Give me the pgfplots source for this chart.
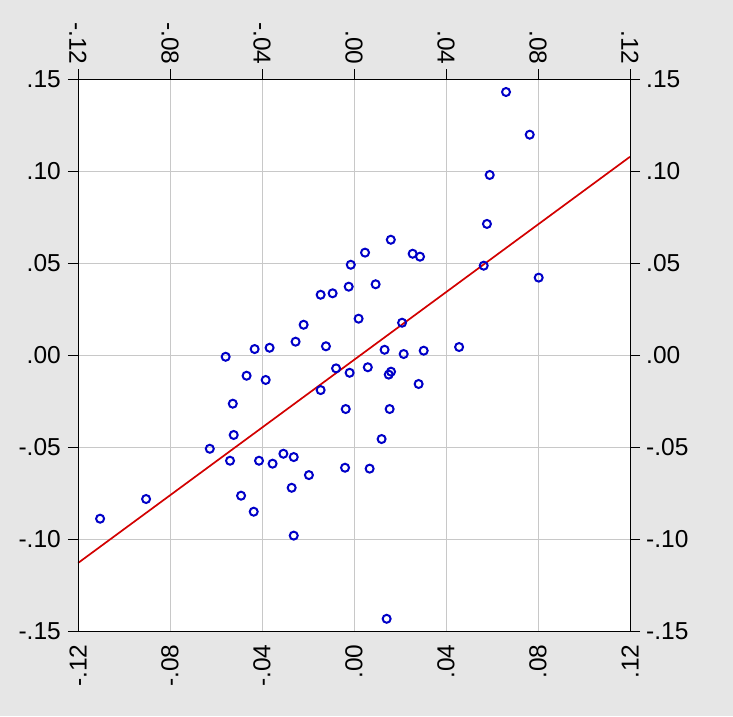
\documentclass[border=0pt]{standalone}
\usepackage{fontspec}
\setmainfont{Liberation Sans}
\usepackage{pgfplots}
\pgfplotsset{compat=1.18}
\definecolor{bgc}{RGB}{230,230,230}
\definecolor{gridc}{RGB}{200,200,200}
\definecolor{ptc}{RGB}{0,0,200}
\definecolor{linec}{RGB}{210,0,0}
\begin{document}
\begin{tikzpicture}[x=1pt,y=1pt]
\fill[bgc] (-78,-84.7) rectangle (655,631.3);
\pgfplotsset{
  common/.style={
    at={(0,0)}, anchor=south west,
    scale only axis, width=552pt, height=552pt,
    xmin=-0.12, xmax=0.12, ymin=-0.15, ymax=0.15,
    xtick={-0.12,-0.08,-0.04,0,0.04,0.08,0.12},
    ytick={-0.15,-0.10,-0.05,0,0.05,0.10,0.15},
    xticklabels={-.12,-.08,-.04,.00,.04,.08,.12},
    yticklabels={-.15,-.10,-.05,.00,.05,.10,.15},
    tick align=outside, major tick length=10pt,
    tick style={black, line width=0.8pt},
    axis line style={black, line width=0.8pt},
    ticklabel style={font=\fontsize{24.5}{28}\selectfont},
  }
}
\begin{axis}[common,
  xtick pos=bottom, ytick pos=left,
  x tick style={draw=none},
  grid=major, major grid style={gridc, line width=0.8pt},
  axis background/.style={fill=white},
  xticklabel style={rotate=90, anchor=east, inner sep=3pt},
  yticklabel style={anchor=east, inner sep=7pt},
]
\addplot[linec, line width=1.7pt] coordinates {(-0.12,-0.1129) (0.12,0.1079)};
\addplot[only marks, mark=o, mark size=4pt, mark options={ptc, line width=2pt}] coordinates {
(-0.1104,-0.0888) (-0.0904,-0.0781) (-0.0558,-0.0008) (-0.0432,0.0034)
(-0.0367,0.0041) (-0.0467,-0.0111) (-0.0384,-0.0134) (-0.0527,-0.0263)
(-0.0523,-0.0433) (-0.0627,-0.0508) (-0.0539,-0.0573) (-0.0413,-0.0573)
(-0.0354,-0.0589) (-0.0491,-0.0763) (-0.0436,-0.0850) (0.0160,0.0628)
(0.0048,0.0558) (0.0255,0.0552) (0.0287,0.0536) (-0.0014,0.0492)
(-0.0023,0.0373) (0.0094,0.0386) (-0.0145,0.0329) (-0.0093,0.0337)
(0.0020,0.0199) (-0.0219,0.0166) (0.0209,0.0177) (-0.0254,0.0074)
(-0.0122,0.0049) (0.0133,0.0030) (0.0216,0.0007) (0.0303,0.0025)
(-0.0078,-0.0071) (-0.0019,-0.0095) (0.0060,-0.0065) (0.0161,-0.0089)
(0.0151,-0.0105) (0.0281,-0.0156) (-0.0145,-0.0189) (-0.0036,-0.0292)
(0.0155,-0.0292) (0.0120,-0.0455) (-0.0307,-0.0535) (-0.0262,-0.0553)
(-0.0196,-0.0651) (-0.0039,-0.0611) (0.0068,-0.0616) (-0.0271,-0.0720)
(-0.0262,-0.0980) (0.0142,-0.1432) (0.0661,0.1431) (0.0764,0.1199)
(0.0590,0.0980) (0.0578,0.0714) (0.0564,0.0487) (0.0803,0.0422)
(0.0457,0.0045)
};
\end{axis}
\begin{axis}[common,
  xtick pos=top, ytick pos=right,
  xticklabel pos=top, yticklabel pos=right,
  xticklabel style={rotate=-90, anchor=east, inner sep=4.5pt},
  yticklabel style={anchor=west, inner sep=6pt},
]
\end{axis}
\end{tikzpicture}
\end{document}
